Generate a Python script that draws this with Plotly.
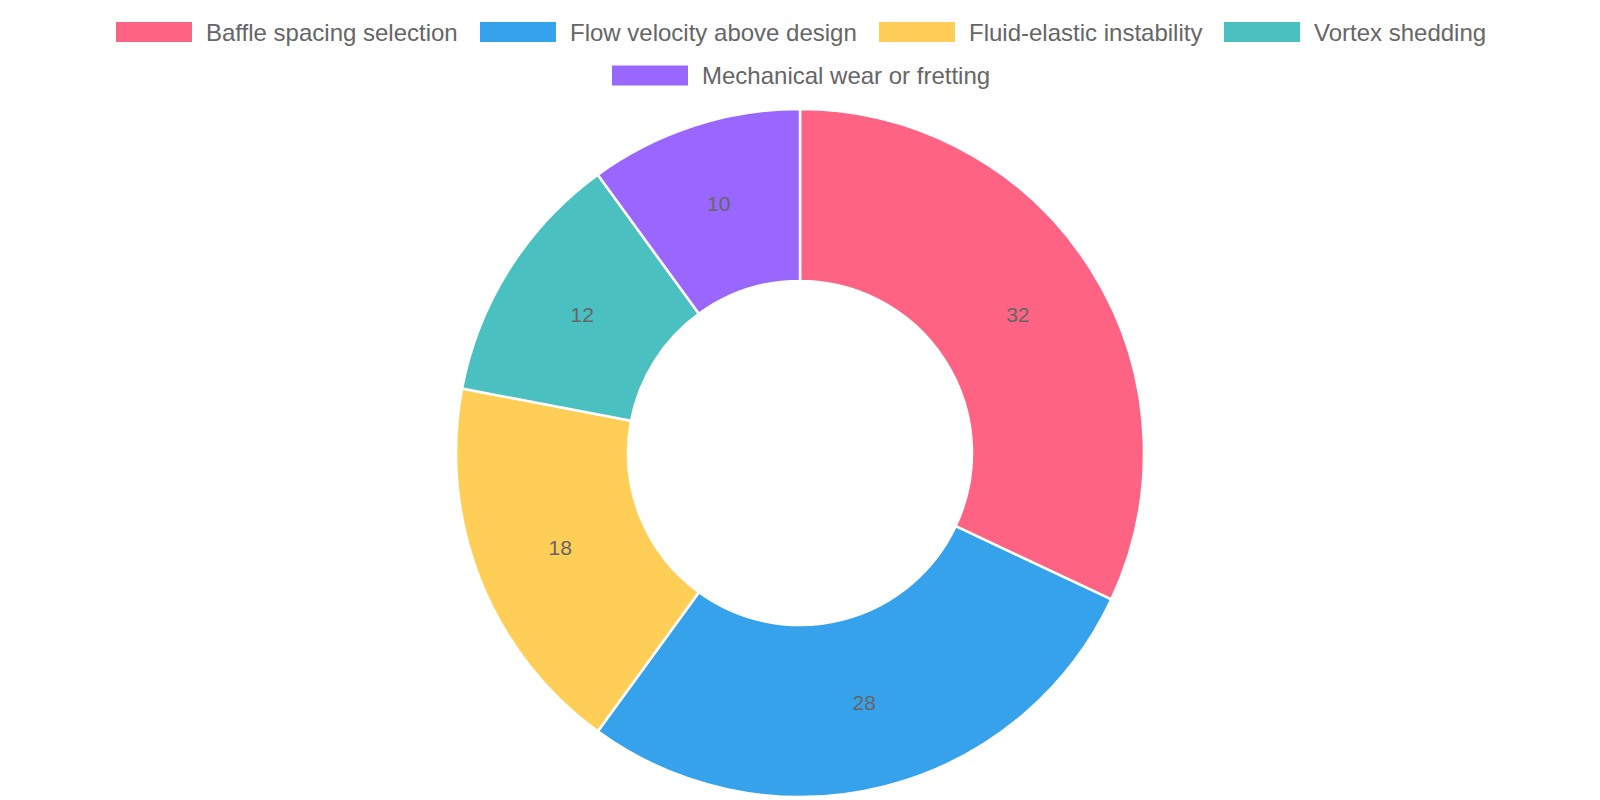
import plotly.graph_objects as go

# Causes of tube vibration problems (share of cases)
labels = [
    "Baffle spacing selection",
    "Flow velocity above design",
    "Fluid-elastic instability",
    "Vortex shedding",
    "Mechanical wear or fretting",
]
values = [32, 28, 18, 12, 10]

colors = [
    "rgb(255, 99, 132)",
    "rgb(54, 162, 235)",
    "rgb(255, 206, 86)",
    "rgb(75, 192, 192)",
    "rgb(153, 102, 255)",
]

W, H = 1600, 800

fig = go.Figure(go.Pie(
    labels=labels,
    values=values,
    hole=0.5,
    sort=False,
    direction="clockwise",
    rotation=0,
    marker=dict(colors=colors, line=dict(color="white", width=2.5)),
    textinfo="value",
    textposition="inside",
    insidetextorientation="horizontal",
    textfont=dict(color="#666666", size=21),
    showlegend=False,
    domain=dict(x=[0, 0.99], y=[0.01375, 0.87375]),
))

# chart.js style legend: wide colour boxes, rows centred above the doughnut
# (left edge of each box in px, row centre in px from the top)
legend_slots = [(108, 24), (472, 24), (871, 24), (1216, 24), (604, 67.5)]
box_w, box_h, gap = 76, 20, 12

for label, color, (bx, cy) in zip(labels, colors, legend_slots):
    fig.add_shape(
        type="rect", xref="paper", yref="paper",
        x0=bx / W, x1=(bx + box_w) / W,
        y0=1 - (cy + box_h / 2) / H, y1=1 - (cy - box_h / 2) / H,
        fillcolor=color, line=dict(width=0),
    )
    fig.add_annotation(
        xref="paper", yref="paper",
        x=(bx + box_w + gap) / W, y=1 - cy / H,
        xanchor="left", yanchor="middle",
        text=label, showarrow=False,
        font=dict(size=24, color="#666666"),
    )

fig.update_layout(
    width=W,
    height=H,
    margin=dict(l=0, r=0, t=0, b=0),
    paper_bgcolor="white",
    font=dict(family="Liberation Sans, Arial, sans-serif", color="#666666"),
)

fig.write_html("out.html")
